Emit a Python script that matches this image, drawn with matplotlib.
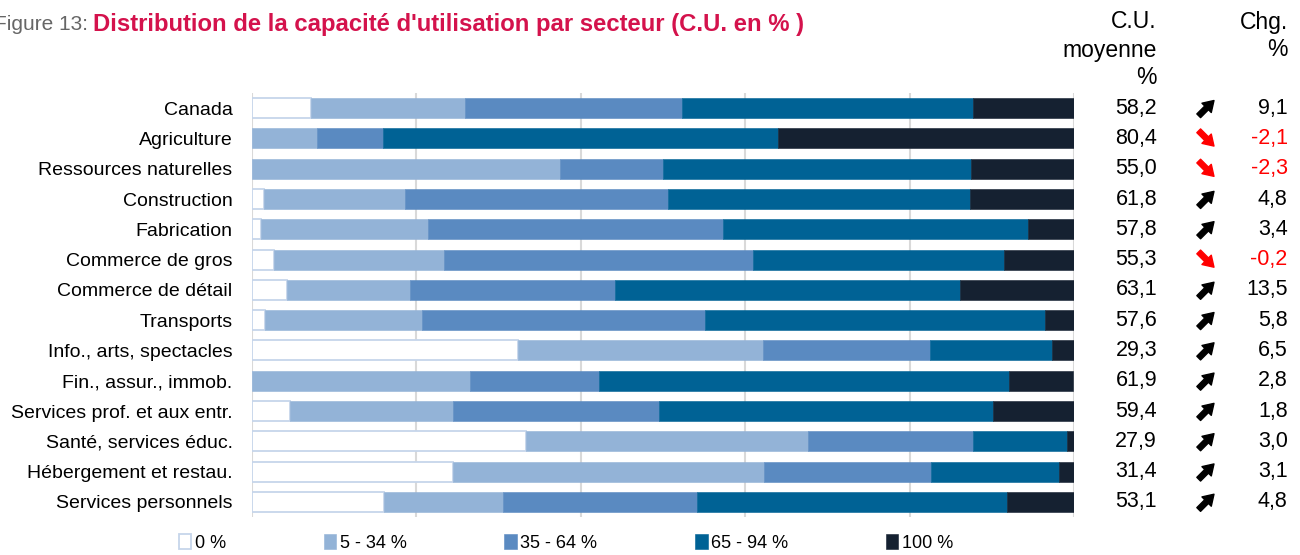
import matplotlib
matplotlib.use("Agg")
import matplotlib.pyplot as plt
import matplotlib.transforms as mtransforms
import numpy as np

sectors = ["Canada", "Agriculture", "Ressources naturelles", "Construction",
           "Fabrication", "Commerce de gros", "Commerce de détail", "Transports",
           "Info., arts, spectacles", "Fin., assur., immob.",
           "Services prof. et aux entr.", "Santé, services éduc.",
           "Hébergement et restau.", "Services personnels"]

pct_0 = [7.2, 0.0, 0.0, 1.5, 1.1, 2.7, 4.2, 1.6, 32.3, 0.0, 4.6, 33.3, 24.4, 16.0]
pct_5_34 = [18.7, 7.9, 37.5, 17.1, 20.3, 20.7, 15.0, 19.1, 29.9, 26.5, 19.9, 34.4, 37.9, 14.5]
pct_35_64 = [26.4, 8.0, 12.5, 32.0, 35.9, 37.6, 25.0, 34.4, 20.3, 15.7, 25.0, 20.0, 20.3, 23.6]
pct_65_94 = [35.4, 48.1, 37.5, 36.8, 37.1, 30.5, 41.9, 41.4, 14.8, 49.9, 40.6, 11.4, 15.6, 37.7]
pct_100 = [12.3, 36.0, 12.5, 12.6, 5.6, 8.5, 13.9, 3.5, 2.7, 7.8, 9.9, 1.0, 1.8, 8.2]

cu_moyenne = [58.2, 80.4, 55.0, 61.8, 57.8, 55.3, 63.1, 57.6, 29.3, 61.9, 59.4, 27.9, 31.4, 53.1]
chg = [9.1, -2.1, -2.3, 4.8, 3.4, -0.2, 13.5, 5.8, 6.5, 2.8, 1.8, 3.0, 3.1, 4.8]

legend_labels = ["0 %", "5 - 34 %", "35 - 64 %", "65 - 94 %", "100 %"]
colors = ["#ffffff", "#93b3d7", "#5a8ac1", "#006295", "#152131"]

arial = ["Liberation Sans", "DejaVu Sans"]

fig = plt.figure(figsize=(13, 5.55), dpi=100)
ax = fig.add_axes([252 / 1300, 1 - 517 / 555, 822 / 1300, 424 / 555])

y = np.arange(len(sectors))
series = [pct_0, pct_5_34, pct_35_64, pct_65_94, pct_100]
left = np.zeros(len(sectors))
for vals, col, lab in zip(series, colors, legend_labels):
    if col == "#ffffff":
        ax.barh(y, vals, left=left, height=0.66, color=col, edgecolor="#c6d5ea",
                linewidth=1.3, label=lab, zorder=3)
    else:
        ax.barh(y, vals, left=left, height=0.66, color=col, edgecolor=col,
                linewidth=0.4, label=lab, zorder=3)
    left += np.array(vals)

ax.set_xlim(0, 100)
ax.set_ylim(len(sectors) - 0.5, -0.5)
ax.set_xticks(np.arange(0, 101, 20))
ax.set_xticklabels([])
ax.grid(axis="x", color="#d9d9d9", linewidth=1.5, zorder=0)
ax.set_yticks(y)
ax.set_yticklabels(sectors, fontsize=14, family=arial)
ax.tick_params(axis="both", length=0)
ax.tick_params(axis="y", pad=14)
for s in ax.spines.values():
    s.set_visible(False)

# right-hand columns
tr = ax.get_yaxis_transform()
for i in range(len(sectors)):
    ax.text(1.101, i, f"{cu_moyenne[i]:.1f}".replace(".", ","), transform=tr,
            ha="right", va="center", fontsize=15.5, family=arial)
    up = chg[i] >= 0
    c = "black" if up else "#ff0000"
    dy = 5.5 if up else -5.5
    ax.annotate("", xy=(1.161, i), xycoords=mtransforms.offset_copy(
                    tr, fig=fig, x=5.5, y=dy, units="points"),
                xytext=(-11, -2 * dy), textcoords="offset points",
                arrowprops=dict(arrowstyle="simple,head_length=0.75,head_width=0.95,tail_width=0.38",
                                color=c, shrinkA=0, shrinkB=0),
                annotation_clip=False)
    ax.text(1.260, i, f"{chg[i]:.1f}".replace(".", ","), transform=tr,
            ha="right", va="center", fontsize=15.5, color=c, family=arial)

for txt, yy in [("C.U.", 22), ("moyenne", 50), ("%", 78)]:
    fig.text(1157 / 1300, 1 - yy / 555, txt, ha="right", va="center",
             fontsize=16.5, family=arial)
for txt, yy in [("Chg.", 22), ("%", 50)]:
    fig.text(1288 / 1300, 1 - yy / 555, txt, ha="right", va="center",
             fontsize=16.5, family=arial)

# title
fig.text(88 / 1300, 1 - 25 / 555, "Figure 13:", ha="right", va="center",
         fontsize=15, color="#666666", family=arial)
fig.text(93 / 1300, 1 - 25 / 555,
         "Distribution de la capacité d'utilisation par secteur (C.U. en % )",
         ha="left", va="center", fontsize=17.2, color="#d4124c",
         fontweight="bold", family=arial)

fig.legend(loc="center", bbox_to_anchor=(566 / 1300, 1 - 543 / 555), ncol=5,
           frameon=False, handlelength=0.7, handleheight=0.9, handletextpad=0.2,
           columnspacing=5.4, prop={"family": arial, "size": 13})

fig.savefig("out.png", dpi=100)
